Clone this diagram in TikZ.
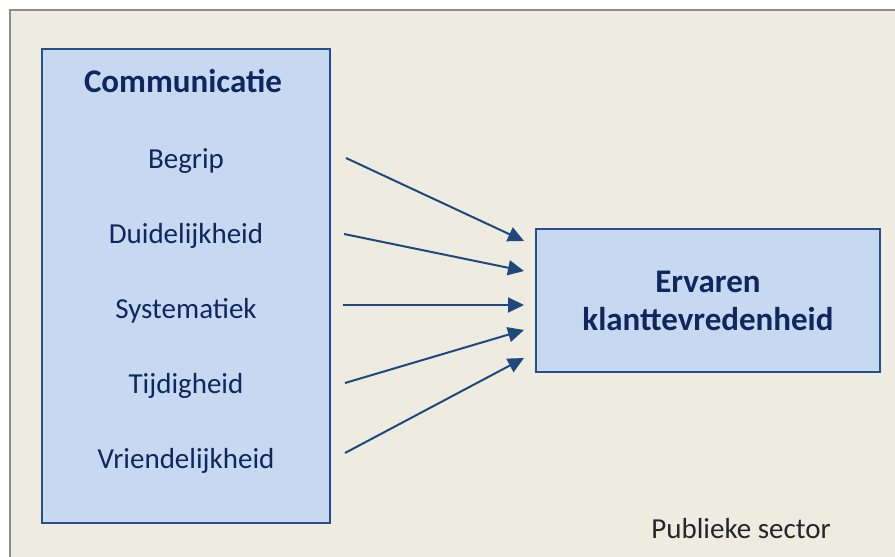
\documentclass[tikz,border=0pt]{standalone}
\usepackage{fontspec}
\setmainfont{Carlito}
\usetikzlibrary{arrows.meta}
\definecolor{bg}{HTML}{EEEBE0}
\definecolor{frame}{HTML}{8C8C8C}
\definecolor{boxfill}{HTML}{C6D9F1}
\definecolor{boxline}{HTML}{254F8A}
\definecolor{txt}{HTML}{10265E}
\definecolor{arr}{HTML}{1F497D}
\tikzset{
  box/.style={draw=boxline, fill=boxfill, line width=2.6pt},
  title/.style={anchor=base, font=\fontsize{33}{39}\selectfont\bfseries, text=txt, inner sep=0pt},
  item/.style={anchor=base, font=\fontsize{29}{34}\selectfont, text=txt, inner sep=0pt},
  conn/.style={draw=arr, line width=2pt, -{Triangle[length=16pt,width=15pt]}},
}
\begin{document}
\begin{tikzpicture}[x=1pt,y=-1pt]
\useasboundingbox (0,0) rectangle (895,557);
\fill[white] (0,0) rectangle (895,557);
\fill[bg] (10,10) rectangle (900,600);
\draw[frame, line width=1.2pt] (10,600) -- (10,10) -- (900,10);
% boxes
\draw[box] (42,49) rectangle (330,523);
\draw[box] (536,229) rectangle (880,372);
% left texts
\node[title] (comm) at (183,92) {Communicatie};
\node[item] (i1) at (186,168) {Begrip};
\node[item] (i2) at (186,243) {Duidelijkheid};
\node[item] (i3) at (186,318) {Systematiek};
\node[item] (i4) at (186,393) {Tijdigheid};
\node[item] (i5) at (186,468) {Vriendelijkheid};
% right texts
\node[title] (erv) at (708,292) {Ervaren};
\node[title] (kt) at (708,330) {klanttevredenheid};
\node[item, text=black!85] (ps) at (741,538) {Publieke sector};
% connector ends
\coordinate (s1) at (346,158);
\coordinate (s2) at (344,234);
\coordinate (s3) at (343,305);
\coordinate (s4) at (345,383);
\coordinate (s5) at (345,453);
\coordinate (t1) at (524,241);
\coordinate (t2) at (524,271);
\coordinate (t3) at (524,305);
\coordinate (t4) at (524,330);
\coordinate (t5) at (524,358);
\draw[conn] (s1) -- (t1);
\draw[conn] (s2) -- (t2);
\draw[conn] (s3) -- (t3);
\draw[conn] (s4) -- (t4);
\draw[conn] (s5) -- (t5);
\end{tikzpicture}
\end{document}
